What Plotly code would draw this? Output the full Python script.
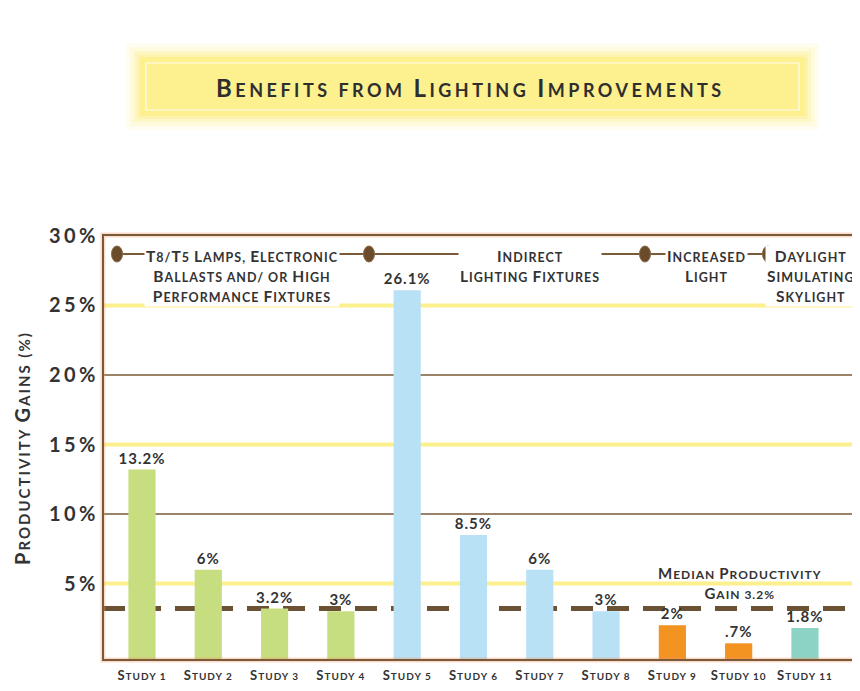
import plotly.graph_objects as go

# ---------------- data ----------------
studies = ["Study 1", "Study 2", "Study 3", "Study 4", "Study 5", "Study 6",
           "Study 7", "Study 8", "Study 9", "Study 10", "Study 11"]
gains = [13.2, 6.0, 3.2, 3.0, 26.1, 8.5, 6.0, 3.0, 2.0, 0.7, 1.8]
gain_labels = ["13.2%", "6%", "3.2%", "3%", "26.1%", "8.5%", "6%", "3%", "2%", ".7%", "1.8%"]
groups = ["T8/T5", "T8/T5", "T8/T5", "T8/T5", "Indirect", "Indirect", "Indirect",
          "Indirect", "Increased", "Increased", "Daylight"]
group_names = ["T8/T5 Lamps, Electronic<br>Ballasts and/ or High<br>Performance Fixtures",
               "Indirect<br>Lighting Fixtures",
               "Increased<br>Light",
               "Daylight<br>Simulating<br>Skylight"]
median_gain = 3.2
median_label = "Median Productivity<br>Gain 3.2%"
y_tickvals = [5, 10, 15, 20, 25, 30]
y_ticktext = ["5%", "10%", "15%", "20%", "25%", "30%"]
yellow_grid = [5, 15, 25]
brown_grid = [10, 20]
title_text = "Benefits from Lighting Improvements"
y_title = "Productivity Gains (%)"

# ---------------- styles ----------------
group_colors = {"T8/T5": "#c6de7f", "Indirect": "#b9e1f6",
                "Increased": "#f39322", "Daylight": "#8dd3c3"}
FONT = "Lato"
DARK = "#333333"
BROWN = "#7a5a38"
OFF = 8  # page body margin
W_FIG, H_FIG = 860 - OFF, 691 - OFF
# plot area in screen pixels (reference)
L, R, T, B = 103, 857, 235, 660
Y0, Y1 = -0.5, 30.07


def px(x):
    return (x - L) / (R - L)


def py(y):
    return (B - y) / (B - T)


def sc(s, big, small, spacing=1):
    """Fake small caps using font-size spans."""
    lines = []
    for part in s.split("<br>"):
        out = []
        run, run_small = "", None

        def flush(run, run_small):
            if run:
                size = small if run_small else big
                out.append('<span style="font-size:%spx;letter-spacing:%spx">%s</span>' % (size, spacing, run))

        for ch in part:
            is_small = ch.islower() or ch.isdigit() or ch in "/.,%()"
            if ch == " ":
                is_small = run_small if run_small is not None else False
            if run_small is None or is_small == run_small:
                run += ch.upper()
                run_small = is_small
            else:
                flush(run, run_small)
                run, run_small = ch.upper(), is_small
        flush(run, run_small)
        lines.append("".join(out))
    return "<br>".join(lines)


fig = go.Figure()

colors = [group_colors[g] for g in groups]
fig.add_trace(go.Bar(
    x=studies, y=[v - Y0 for v in gains], base=Y0,
    marker=dict(color=colors, line=dict(width=0)),
    width=0.41,
    text=['<span style="letter-spacing:1px">%s</span>' % t for t in gain_labels],
    textposition="outside", cliponaxis=False, constraintext="none",
    textfont=dict(family=FONT, size=15, color=DARK, weight="bold"),
    hoverinfo="skip",
))

shapes = []
# title glow box
for grow, op in [(14, 0.12), (10, 0.18), (6, 0.28), (3, 0.4)]:
    shapes.append(dict(type="rect", xref="paper", yref="paper",
                       x0=px(140 - grow), x1=px(805 + grow), y0=py(116 + grow), y1=py(57 - grow),
                       fillcolor="rgba(252,238,140,%s)" % op, line=dict(width=0), layer="below"))
shapes.append(dict(type="rect", xref="paper", yref="paper",
                   x0=px(140), x1=px(805), y0=py(116), y1=py(57),
                   fillcolor="#fcf08f", line=dict(width=0), layer="below"))
shapes.append(dict(type="rect", xref="paper", yref="paper",
                   x0=px(146), x1=px(799), y0=py(110), y1=py(63),
                   fillcolor="rgba(0,0,0,0)", line=dict(width=1.2, color="rgba(255,255,255,0.85)"), layer="below"))

# grid lines
for g in yellow_grid:
    shapes.append(dict(type="line", xref="paper", yref="y", x0=0, x1=1, y0=g, y1=g,
                       line=dict(color="#fbef8e", width=4), layer="below"))
for g in brown_grid:
    shapes.append(dict(type="line", xref="paper", yref="y", x0=0, x1=1, y0=g, y1=g,
                       line=dict(color=BROWN, width=1.5), layer="below"))
# median line
shapes.append(dict(type="line", xref="paper", yref="y", x0=0, x1=1, y0=median_gain, y1=median_gain,
                   line=dict(color="#6b5234", width=5, dash="22px,14px"), layer="below"))

# frame glow + frame
shapes.append(dict(type="rect", xref="paper", yref="paper", x0=0, x1=1, y0=0, y1=1,
                   line=dict(color="rgba(240,150,100,0.35)", width=5), fillcolor="rgba(0,0,0,0)", layer="above"))
shapes.append(dict(type="rect", xref="paper", yref="paper", x0=0, x1=1, y0=0, y1=1,
                   line=dict(color=BROWN, width=2), fillcolor="rgba(0,0,0,0)", layer="above"))

# group bracket line and dots
bracket_y = py(254)
shapes.append(dict(type="line", xref="paper", yref="paper", x0=px(117), x1=px(776),
                   y0=bracket_y, y1=bracket_y, line=dict(color=BROWN, width=2), layer="above"))
for dx in [117, 369, 645, 768]:
    shapes.append(dict(type="circle", xref="paper", yref="paper",
                       x0=px(dx - 5.5), x1=px(dx + 5.5), y0=py(262), y1=py(246),
                       fillcolor="#6a4c2c", line=dict(width=1, color="#8a6a44"), layer="above"))

annotations = []
annotations.append(dict(text=sc(title_text, 24, 18, 3.5), x=px(470), y=py(87), xref="paper", yref="paper",
                        showarrow=False, font=dict(family=FONT, size=24, color="#2e2e2e", weight="bold"),
                        xanchor="center", yanchor="middle"))
annotations.append(dict(text=sc(y_title, 20, 15, 2), x=px(22), y=py(448), xref="paper", yref="paper",
                        textangle=-90, showarrow=False,
                        font=dict(family=FONT, size=20, color=DARK, weight="bold"),
                        xanchor="center", yanchor="middle"))
group_pos = [242, 530, 706, 811]
for name, gx in zip(group_names, group_pos):
    annotations.append(dict(text=sc(name, 15.5, 12.5, 1), x=px(gx), y=py(245), xref="paper", yref="paper",
                            showarrow=False, align="center", bgcolor="white", borderpad=1,
                            font=dict(family=FONT, size=15.5, color=DARK, weight="bold"),
                            xanchor="center", yanchor="top"))
annotations.append(dict(text=sc(median_label, 15, 12, 1), x=px(739), y=py(562), xref="paper", yref="paper",
                        showarrow=False, align="center",
                        font=dict(family=FONT, size=15, color=DARK, weight="bold"),
                        xanchor="center", yanchor="top"))

fig.update_layout(
    width=W_FIG, height=H_FIG,
    margin=dict(l=L - OFF, r=W_FIG - (R - OFF), t=T - OFF, b=H_FIG - (B - OFF), pad=0),
    paper_bgcolor="white", plot_bgcolor="white",
    showlegend=False,
    shapes=shapes, annotations=annotations,
    bargap=0.6,
)
fig.update_xaxes(
    range=[-0.588, 10.785], showgrid=False, zeroline=False, showline=False, ticks="",
    tickmode="array", tickvals=studies, ticktext=[sc(s, 13, 10, 1) for s in studies],
    tickfont=dict(family=FONT, size=13, color=DARK, weight="bold"), ticklabelstandoff=6,
)
fig.update_yaxes(
    range=[Y0, Y1], showgrid=False, zeroline=False, showline=False, ticks="",
    tickmode="array", tickvals=y_tickvals,
    ticktext=['<span style="letter-spacing:3.5px">%s</span>' % t for t in y_ticktext],
    tickfont=dict(family=FONT, size=20, color=DARK, weight="bold"), ticklabelstandoff=3,
)

fig.write_html("out.html")
